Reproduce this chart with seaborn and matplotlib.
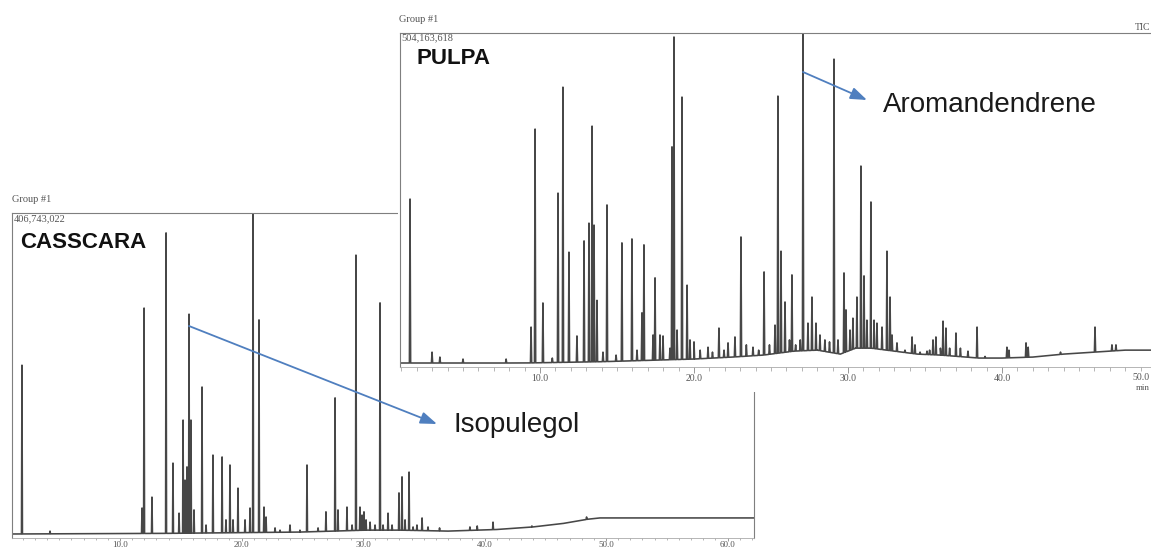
import numpy as np
import pandas as pd
import matplotlib
matplotlib.use("Agg")
import matplotlib.pyplot as plt
import seaborn as sns
from matplotlib.patches import Rectangle, FancyArrowPatch
from matplotlib.ticker import MultipleLocator, FixedLocator, FormatStrFormatter

sns.set_theme(style="white")
plt.rcParams["font.family"] = ["Liberation Sans", "DejaVu Sans"]

# ---------------- CASSCARA (TIC, % of 406,743,022) ----------------
cas_peak_time = [1.93, 4.24, 11.81, 11.98, 12.63, 13.79, 14.36, 14.86, 15.19, 15.35,
                 15.51, 15.68, 15.84, 16.09, 16.75, 17.08, 17.65, 18.40, 18.72, 19.05,
                 19.30, 19.71, 20.29, 20.70, 20.95, 21.44, 21.85, 22.02, 22.76, 23.17,
                 23.99, 24.81, 25.39, 26.30, 26.95, 27.70, 27.94, 28.68, 29.10, 29.42,
                 29.75, 29.92, 30.08, 30.25, 30.58, 30.99, 31.40, 31.65, 32.06, 32.39,
                 32.96, 33.21, 33.46, 33.79, 34.12, 34.44, 34.86, 35.35, 36.30, 38.80,
                 39.40, 40.70, 43.90, 48.40]
cas_peak_top = [52.6, 0.9, 8.1, 70.4, 11.5, 93.8, 22.1, 6.5, 35.5, 16.8,
                20.9, 68.5, 35.5, 7.5, 45.8, 2.8, 24.6, 24.0, 4.4, 21.5,
                4.4, 14.3, 4.4, 8.1, 100.0, 66.7, 8.4, 5.3, 1.9, 1.2,
                2.8, 1.2, 21.5, 1.9, 6.9, 42.4, 7.5, 8.4, 2.8, 86.9,
                8.4, 5.9, 6.9, 4.4, 3.7, 2.8, 72.0, 2.8, 6.5, 2.8,
                12.8, 17.8, 4.4, 19.3, 2.2, 2.8, 5.0, 2.2, 1.9, 2.2,
                2.5, 3.7, 2.5, 5.3]
cas_base_time = [1.1, 14.0, 24.8, 30.3, 33.0, 37.0, 41.0, 44.0, 46.5, 48.5, 49.5, 62.2]
cas_base_level = [0.0, 0.2, 0.6, 1.2, 1.2, 0.9, 1.4, 2.2, 3.3, 4.6, 5.0, 5.0]
cas_tick_labels = [10, 20, 30, 40, 50, 60]

# ---------------- PULPA (TIC, % of 504,163,618) ----------------
pul_peak_time = [1.56, 2.99, 3.50, 5.00, 7.80, 9.42, 9.68, 10.19, 10.80, 11.17,
                 11.49, 11.88, 12.40, 12.86, 13.18, 13.38, 13.51, 13.70, 14.09, 14.35,
                 14.94, 15.32, 15.97, 16.30, 16.62, 16.75, 17.34, 17.47, 17.79, 17.99,
                 18.44, 18.57, 18.70, 18.90, 19.22, 19.55, 19.74, 20.00, 20.40, 20.91,
                 21.20, 21.62, 21.95, 22.21, 22.66, 23.05, 23.40, 23.83, 24.20, 24.55,
                 24.90, 25.26, 25.45, 25.65, 25.91, 26.20, 26.36, 26.60, 26.90, 27.08,
                 27.40, 27.66, 27.92, 28.18, 28.50, 28.80, 29.09, 29.35, 29.74, 29.87,
                 30.13, 30.32, 30.58, 30.84, 31.04, 31.23, 31.49, 31.69, 31.88, 32.21,
                 32.53, 32.73, 32.86, 33.18, 33.70, 34.16, 34.35, 34.68, 35.13, 35.30,
                 35.52, 35.71, 36.00, 36.17, 36.36, 36.60, 37.01, 37.30, 37.79, 38.38,
                 38.90, 40.32, 40.45, 41.56, 41.70, 43.80, 46.04, 47.14, 47.40]
pul_peak_top = [49.7, 3.3, 1.8, 1.2, 1.2, 10.9, 70.9, 18.2, 1.5, 51.5,
                83.6, 33.6, 8.2, 37.0, 42.4, 71.8, 41.8, 19.0, 3.3, 47.9,
                2.4, 36.4, 37.6, 3.9, 15.2, 35.8, 8.5, 25.8, 8.5, 8.2,
                4.5, 65.5, 98.8, 10.0, 80.6, 23.6, 7.0, 6.4, 3.9, 4.8,
                3.3, 10.6, 3.9, 6.1, 7.9, 38.2, 5.5, 4.8, 3.9, 27.6,
                5.5, 11.5, 80.9, 33.9, 18.5, 7.0, 26.7, 5.5, 7.0, 100.0,
                12.1, 20.0, 12.1, 8.5, 7.0, 6.4, 92.1, 7.0, 27.3, 16.1,
                10.0, 13.6, 20.0, 59.7, 26.4, 13.0, 48.8, 13.0, 12.1, 10.9,
                33.9, 20.0, 8.5, 6.1, 3.9, 7.9, 5.5, 3.3, 3.6, 3.9,
                7.0, 7.9, 4.5, 12.7, 10.6, 4.5, 9.1, 4.5, 3.6, 10.9,
                2.0, 4.8, 3.9, 6.1, 4.8, 3.3, 10.9, 5.5, 5.5]
pul_base_time = [0.9, 9.0, 14.0, 20.0, 22.5, 24.5, 26.5, 28.0, 29.5, 30.5, 31.5,
                 33.0, 34.5, 36.0, 38.5, 40.0, 42.0, 44.0, 46.0, 48.0, 50.3]
pul_base_level = [0.0, 0.0, 0.4, 1.2, 1.8, 2.4, 3.6, 3.9, 2.7, 4.5, 4.5,
                  3.6, 2.7, 2.4, 1.5, 1.5, 1.8, 2.7, 3.3, 3.9, 3.9]
pul_tick_labels = [10, 20, 30, 40]
pul_last_tick = 50

W, H = 1151, 548
LINE = "#474747"
FRAME = "#7f7f7f"
BLUE = "#4f7fbf"


def px_rect(left, top, right, bottom):
    """Axes rectangle from pixel edges measured from the top-left corner."""
    return [left / W, 1 - bottom / H, (right - left) / W, (bottom - top) / H]


def fpx(x, y):
    return x / W, 1 - y / H


def trace_frame(peak_t, peak_top, base_t, base_v, hw=0.04):
    """Chromatogram trace: baseline plus a narrow spike at each retention time."""
    pt = np.asarray(peak_t, float)
    top = np.asarray(peak_top, float)
    bt = np.asarray(base_t, float)
    bv = np.asarray(base_v, float)
    top = np.maximum(top, np.interp(pt, bt, bv))
    t = np.concatenate([bt, pt - hw, pt, pt + hw])
    y = np.concatenate([bv, np.interp(pt - hw, bt, bv), top, np.interp(pt + hw, bt, bv)])
    order = np.argsort(t, kind="stable")
    return pd.DataFrame({"time": t[order], "signal": y[order]})


def style_axes(ax, xlim, ylim, labelled, tick_len=4.0, label_size=7.0, pad=1.0):
    ax.set_xlim(*xlim)
    ax.set_ylim(*ylim)
    ax.set_xlabel("")
    ax.set_ylabel("")
    ax.set_yticks([])
    ax.xaxis.set_major_locator(FixedLocator(labelled))
    ax.xaxis.set_minor_locator(MultipleLocator(1))
    ax.xaxis.set_major_formatter(FormatStrFormatter("%.1f"))
    ax.tick_params(axis="x", which="major", direction="out", length=tick_len, width=0.6,
                   color="#888888", labelsize=label_size, labelcolor="#555555", pad=pad,
                   labelfontfamily="Liberation Serif", bottom=True)
    ax.tick_params(axis="x", which="minor", direction="out", length=tick_len * 0.65,
                   width=0.5, color="#999999", bottom=True)
    for sp in ax.spines.values():
        sp.set_visible(True)
        sp.set_color(FRAME)
        sp.set_linewidth(0.8)
    ax.spines["bottom"].set_color("#aaaaaa")
    ax.spines["bottom"].set_linewidth(0.6)
    ax.set_facecolor("white")


fig = plt.figure(figsize=(W / 100, H / 100), dpi=100)
fig.patch.set_facecolor("white")

# CASSCARA chromatogram (back)
ax1 = fig.add_axes(px_rect(12, 213, 754, 538))
ax1.set_zorder(0)
cas = trace_frame(cas_peak_time, cas_peak_top, cas_base_time, cas_base_level)
sns.lineplot(data=cas, x="time", y="signal", ax=ax1, estimator=None, sort=False,
             color=LINE, lw=1.15)
style_axes(ax1, (1.11, 62.18), (-1.25, 100), cas_tick_labels,
           tick_len=2.0, label_size=6.5, pad=0.3)

# white card behind the PULPA chromatogram
fig.add_artist(Rectangle(fpx(398, 392), (W - 398) / W, (392 - 24) / H,
                         transform=fig.transFigure, facecolor="white",
                         edgecolor="none", zorder=1))

# PULPA chromatogram (front)
ax2 = fig.add_axes(px_rect(400, 33, 1160, 367))
ax2.set_zorder(2)
pul = trace_frame(pul_peak_time, pul_peak_top, pul_base_time, pul_base_level)
sns.lineplot(data=pul, x="time", y="signal", ax=ax2, estimator=None, sort=False,
             color=LINE, lw=1.15)
style_axes(ax2, (0.909, 50.26), (-1.21, 100), pul_tick_labels)
# last time label sits at the right border of the page
fig.text(*fpx(1150, 378), f"{pul_last_tick:.1f}", fontsize=7, color="#555555",
         family="Liberation Serif", va="center", ha="right", zorder=4)

# header texts
small = dict(family="Liberation Serif", color="#555555", va="center")
fig.text(*fpx(12, 200), "Group #1", fontsize=7.5, ha="left", zorder=4, **small)
fig.text(*fpx(14, 219), "406,743,022", fontsize=7.5, ha="left", zorder=4, **small)
fig.text(*fpx(399, 20), "Group #1", fontsize=7.5, ha="left", zorder=4, **small)
fig.text(*fpx(401, 38), "504,163,618", fontsize=7.5, ha="left", zorder=4, **small)
fig.text(*fpx(1150, 28), "TIC", fontsize=7, ha="right", zorder=4, **small)
fig.text(*fpx(1150, 388), "min", fontsize=6.5, ha="right", zorder=4, **small)

fig.text(*fpx(20, 242), "CASSCARA", fontsize=16, fontweight="bold", color="#111111",
         va="center", ha="left", zorder=4)
fig.text(*fpx(416, 59), "PULPA", fontsize=16, fontweight="bold", color="#111111",
         va="center", ha="left", zorder=4)

# compound callouts
for (xa, ya), (xb, yb) in [((189, 326), (437, 424)), ((803, 72), (867, 100))]:
    fig.add_artist(FancyArrowPatch(fpx(xa, ya), fpx(xb, yb), transform=fig.transFigure,
                                   arrowstyle="-|>,head_length=0.55,head_width=0.2",
                                   mutation_scale=18, lw=1.3, color=BLUE,
                                   shrinkA=0, shrinkB=0, zorder=6))
fig.text(*fpx(453, 425), "Isopulegol", fontsize=20, color="#1a1a1a",
         va="center", ha="left", zorder=6)
fig.text(*fpx(883, 105), "Aromandendrene", fontsize=20, color="#1a1a1a",
         va="center", ha="left", zorder=6)

fig.savefig("out.png", dpi=100, facecolor="white")
